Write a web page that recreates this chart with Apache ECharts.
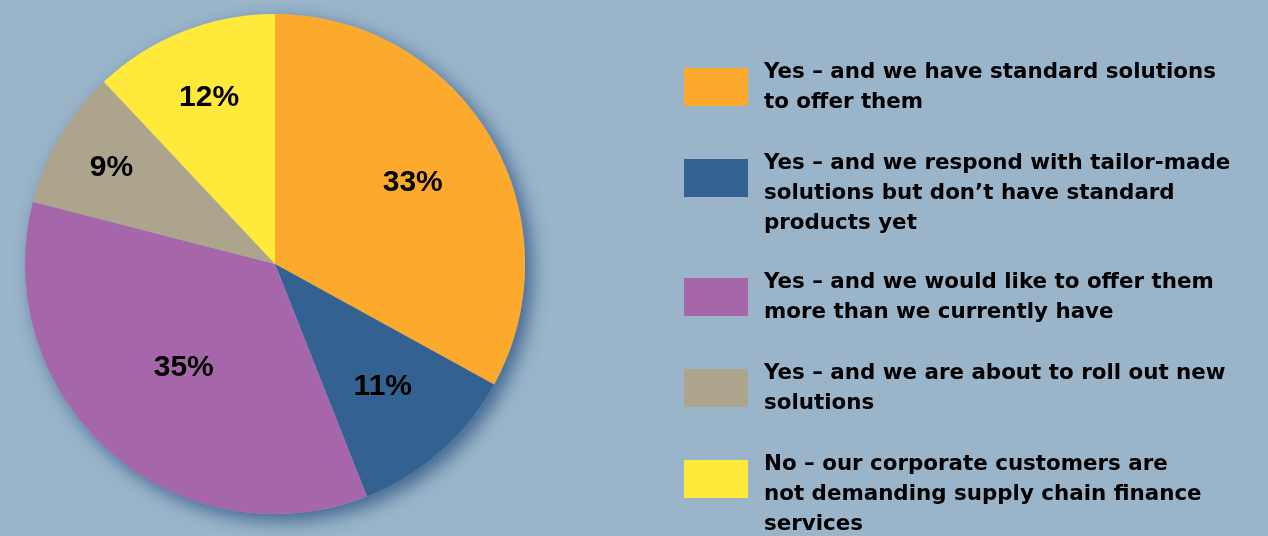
<!DOCTYPE html>
<html><head><meta charset="utf-8">
<script src="https://cdn.jsdelivr.net/npm/echarts@6/dist/echarts.min.js"></script>
<style>html,body{margin:0;padding:0;background:#9ab5ca;}#c{width:1268px;height:536px;}</style>
</head><body><div id="c"></div>
<script>
const categories = [
  'Yes – and we have standard solutions\nto offer them',
  'Yes – and we respond with tailor-made\nsolutions but don’t have standard\nproducts yet',
  'Yes – and we would like to offer them\nmore than we currently have',
  'Yes – and we are about to roll out new\nsolutions',
  'No – our corporate customers are\nnot demanding supply chain finance\nservices'
];
const values = [33, 11, 35, 9, 12];
const colors = ['#fbaa2e', '#336292', '#a667aa', '#ada48e', '#ffea3c'];
const legendTops = [57, 118, 267, 358, 419];
const labelRadii = [160, 163, 138, 190, 179];

const FONT = 'Liberation Sans';
const LFONT = 'DejaVu Sans';
const CX = 275, CY = 264, R = 250;
const chart = echarts.init(document.getElementById('c'));
const data = categories.map((n, i) => ({name: n, value: values[i], itemStyle: {color: colors[i]}}));
const legends = categories.map((n, i) => {
  const lines = n.split('\n');
  return {
    data: [n], left: 684, top: legendTops[i], orient: 'vertical',
    itemWidth: 64, itemHeight: 38, itemGap: 0, icon: 'rect', padding: 0,
    selectedMode: false,
    formatter: () => (lines.length > 2 ? '{s| }\n' : '') + lines.map(l => '{s| }{t|' + l + '}').join('\n'),
    textStyle: {fontFamily: LFONT, fontWeight: 'bold', fontSize: 21.4, color: '#000', lineHeight: 30,
      rich: {
        s: {width: 11, fontSize: 21, lineHeight: 30},
        t: {fontFamily: LFONT, fontWeight: 'bold', fontSize: 21.4, color: '#000', lineHeight: 30}
      }},
    itemStyle: {borderWidth: 0}
  };
});
chart.setOption({
  backgroundColor: '#9ab5ca',
  animation: false,
  legend: legends,
  series: [
    {
      type: 'pie', center: [CX, CY], radius: [0, R], silent: true, z: 1,
      label: {show: false}, labelLine: {show: false}, legendHoverLink: false,
      data: [{value: 1, name: '_bg', itemStyle: {color: '#9ab5ca', shadowBlur: 18, shadowOffsetX: 7, shadowOffsetY: 7, shadowColor: 'rgba(30,70,120,0.7)'}}]
    },
    {
      type: 'pie', center: [CX, CY], radius: [0, R], startAngle: 90, clockwise: true, z: 2,
      silent: true, labelLine: {show: false},
      label: {show: true, position: 'inside', formatter: '{c}%', fontFamily: FONT, fontWeight: 'bold', fontSize: 30, color: '#000'},
      labelLayout: function (p) {
        const r = p.labelRect;
        const x = r.x + r.width / 2 - CX, y = r.y + r.height / 2 - CY;
        const d = Math.sqrt(x * x + y * y) || 1;
        const k = labelRadii[p.dataIndex] / d;
        return {dx: x * (k - 1), dy: y * (k - 1)};
      },
      itemStyle: {borderWidth: 0}, data: data
    }
  ]
});
</script></body></html>
